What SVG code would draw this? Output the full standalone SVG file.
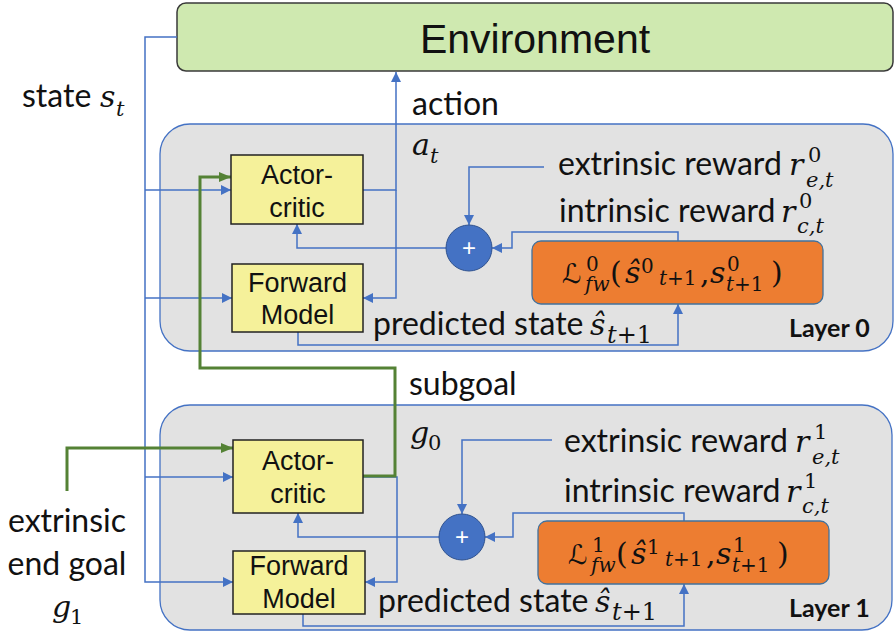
<svg xmlns="http://www.w3.org/2000/svg" width="895" height="635" viewBox="0 0 895 635">
  <style>
    .env { fill: #cfe9b0; stroke: #3a3a3a; stroke-width: 1.5; }
    .layer { fill: #e2e2e2; stroke: #4472c4; stroke-width: 1.3; }
    .box { fill: #f5f19a; stroke: #222; stroke-width: 1.5; }
    .loss { fill: #ed7d31; stroke: #41719c; stroke-width: 1.3; }
    .sum { fill: #4472c4; stroke: #2f528f; stroke-width: 1; }
    .wire { fill: none; stroke: #4472c4; stroke-width: 1.5; }
    .goal { fill: none; stroke: #548235; stroke-width: 3; }
    .sans { font-family: "Liberation Sans", Arial, sans-serif; fill: #111; }
    .hum { font-family: Lato, "Open Sans", sans-serif; fill: #111; }
    .math { font-family: "DejaVu Serif", "Liberation Serif", serif; font-style: italic; fill: #111; }
    .up { font-style: normal; }
    .script { font-family: "DejaVu Sans", "DejaVu Serif", serif; font-style: normal; }
    .plus { font-family: "Liberation Sans", Arial, sans-serif; font-size: 24px; fill: #fff; text-anchor: middle; }
    .tag { font-family: Lato, "Open Sans", sans-serif; font-weight: bold; font-size: 25px; fill: #111; }
  </style>
  <defs>
    <marker id="arrowBlue" markerUnits="userSpaceOnUse" markerWidth="10" markerHeight="10" refX="10" refY="5" orient="auto">
      <path d="M0,0 L10,5 L0,10 Z" fill="#4472c4"/>
    </marker>
    <marker id="arrowGreen" markerUnits="userSpaceOnUse" markerWidth="12" markerHeight="12" refX="12" refY="6" orient="auto">
      <path d="M0,1 L12,6 L0,11 Z" fill="#548235"/>
    </marker>
  </defs>

  <!-- containers -->
  <g id="environment">
    <rect class="env" x="177" y="3" width="716" height="68" rx="9"/>
    <text class="sans" x="535" y="53" font-size="41" text-anchor="middle">Environment</text>
  </g>
  <g id="layer0">
    <rect class="layer" x="160" y="124" width="733" height="227" rx="30"/>
    <text class="tag" x="789" y="337">Layer 0</text>
  </g>
  <g id="layer1">
    <rect class="layer" x="160" y="405" width="732" height="225" rx="30"/>
    <text class="tag" x="789" y="617">Layer 1</text>
  </g>

  <!-- connectors -->
  <g id="connectors">
    <!-- state feed -->
    <path class="wire" d="M177,37 H145 V582 H233" marker-end="url(#arrowBlue)"/>
    <path class="wire" d="M145,190 H231" marker-end="url(#arrowBlue)"/>
    <path class="wire" d="M145,298 H232" marker-end="url(#arrowBlue)"/>
    <path class="wire" d="M145,477 H233" marker-end="url(#arrowBlue)"/>
    <!-- layer 0 -->
    <path class="wire" d="M363,190 H396 V72" marker-end="url(#arrowBlue)"/>
    <path class="wire" d="M396,190 V298 H363" marker-end="url(#arrowBlue)"/>
    <path class="wire" d="M544,167 H469 V225" marker-end="url(#arrowBlue)"/>
    <path class="wire" d="M678,241 V232 H512 V248 H492" marker-end="url(#arrowBlue)"/>
    <path class="wire" d="M446,248 H297 V224" marker-end="url(#arrowBlue)"/>
    <path class="wire" d="M298,332 V345 H678 V304" marker-end="url(#arrowBlue)"/>
    <!-- layer 1 -->
    <path class="wire" d="M363,477 H397 V582 H365" marker-end="url(#arrowBlue)"/>
    <path class="wire" d="M552,440 H462 V514" marker-end="url(#arrowBlue)"/>
    <path class="wire" d="M684,521 V513 H513 V537 H485" marker-end="url(#arrowBlue)"/>
    <path class="wire" d="M439,537 H298 V513" marker-end="url(#arrowBlue)"/>
    <path class="wire" d="M303,614 V626 H684 V584" marker-end="url(#arrowBlue)"/>
    <!-- goals -->
    <path class="goal" d="M67,491 V448 H233" marker-end="url(#arrowGreen)"/>
    <path class="goal" d="M363,476 H395 V368 H200 V177 H231" marker-end="url(#arrowGreen)"/>
  </g>

  <!-- layer 0 nodes -->
  <g id="actor-critic-0">
    <rect class="box" x="231" y="155" width="132" height="69"/>
    <text class="sans" x="297" y="184" font-size="27" text-anchor="middle">Actor-</text>
    <text class="sans" x="297" y="217" font-size="27" text-anchor="middle">critic</text>
  </g>
  <g id="forward-model-0">
    <rect class="box" x="232" y="264" width="131" height="68"/>
    <text class="sans" x="297.5" y="292" font-size="27" text-anchor="middle">Forward</text>
    <text class="sans" x="297.5" y="324" font-size="27" text-anchor="middle">Model</text>
  </g>
  <g id="sum-0">
    <circle class="sum" cx="469" cy="248" r="23"/>
    <text class="plus" x="469" y="256">+</text>
  </g>
  <g id="loss-0">
    <rect class="loss" x="532" y="241" width="291" height="63" rx="9"/>
    <text class="math" font-size="30" y="283"><tspan class="script" x="562" font-size="27">ℒ</tspan><tspan class="up" x="586" y="271" font-size="20">0</tspan><tspan x="585" y="291" font-size="20">fw</tspan><tspan class="up" x="610" y="283" font-size="30">(</tspan><tspan x="625">ŝ</tspan><tspan class="up" x="641" y="273" font-size="20">0</tspan><tspan x="659" y="285" font-size="20">t</tspan><tspan class="up" font-size="20">+1</tspan><tspan class="up" x="700" y="283">,</tspan><tspan x="710">s</tspan><tspan class="up" x="727" y="271" font-size="20">0</tspan><tspan x="726" y="291" font-size="20">t</tspan><tspan class="up" font-size="20">+1</tspan><tspan class="up" x="771" y="283">)</tspan></text>
  </g>

  <!-- layer 1 nodes -->
  <g id="actor-critic-1">
    <rect class="box" x="233" y="440" width="130" height="73"/>
    <text class="sans" x="298" y="470" font-size="27" text-anchor="middle">Actor-</text>
    <text class="sans" x="298" y="503" font-size="27" text-anchor="middle">critic</text>
  </g>
  <g id="forward-model-1">
    <rect class="box" x="233" y="551" width="132" height="63"/>
    <text class="sans" x="299" y="575" font-size="27" text-anchor="middle">Forward</text>
    <text class="sans" x="299" y="608" font-size="27" text-anchor="middle">Model</text>
  </g>
  <g id="sum-1">
    <circle class="sum" cx="462" cy="537" r="23"/>
    <text class="plus" x="462" y="545">+</text>
  </g>
  <g id="loss-1">
    <rect class="loss" x="538" y="521" width="291" height="63" rx="9"/>
    <text class="math" font-size="30" y="564"><tspan class="script" x="568" font-size="27">ℒ</tspan><tspan class="up" x="592" y="552" font-size="20">1</tspan><tspan x="591" y="572" font-size="20">fw</tspan><tspan class="up" x="616" y="564" font-size="30">(</tspan><tspan x="631">ŝ</tspan><tspan class="up" x="647" y="554" font-size="20">1</tspan><tspan x="665" y="566" font-size="20">t</tspan><tspan class="up" font-size="20">+1</tspan><tspan class="up" x="706" y="564">,</tspan><tspan x="716">s</tspan><tspan class="up" x="733" y="552" font-size="20">1</tspan><tspan x="732" y="572" font-size="20">t</tspan><tspan class="up" font-size="20">+1</tspan><tspan class="up" x="777" y="564">)</tspan></text>
  </g>

  <!-- labels -->
  <g id="labels">
    <text class="hum" x="22" y="107" font-size="32">state</text>
    <text class="math" x="100" y="107" font-size="30">s</text>
    <text class="math" x="116" y="116" font-size="21">t</text>

    <text class="hum" x="412" y="115" font-size="32">action</text>
    <text class="math" x="412" y="155" font-size="30">a</text>
    <text class="math" x="430" y="163" font-size="21">t</text>

    <text class="hum" x="558" y="175" font-size="32">extrinsic reward</text>
    <text class="math" x="789" y="175" font-size="30">r</text>
    <text class="math up" x="808" y="162" font-size="21">0</text>
    <text class="math" x="806" y="187" font-size="21">e,t</text>

    <text class="hum" x="559" y="222" font-size="32">intrinsic reward</text>
    <text class="math" x="781" y="222" font-size="30">r</text>
    <text class="math up" x="799" y="208" font-size="21">0</text>
    <text class="math" x="797" y="233" font-size="21">c,t</text>

    <text class="hum" x="373" y="335" font-size="32">predicted state</text>
    <text class="math" x="590" y="335" font-size="30">ŝ</text>
    <text class="math" x="607" y="343" font-size="24">t<tspan class="up">+1</tspan></text>

    <text class="hum" x="409" y="395" font-size="32">subgoal</text>
    <text class="math" x="410" y="443" font-size="30">g</text>
    <text class="math up" x="428" y="450" font-size="21">0</text>

    <text class="hum" x="564" y="452" font-size="32">extrinsic reward</text>
    <text class="math" x="795" y="452" font-size="30">r</text>
    <text class="math up" x="814" y="439" font-size="21">1</text>
    <text class="math" x="812" y="464" font-size="21">e,t</text>

    <text class="hum" x="564" y="502" font-size="32">intrinsic reward</text>
    <text class="math" x="786" y="502" font-size="30">r</text>
    <text class="math up" x="804" y="488" font-size="21">1</text>
    <text class="math" x="802" y="513" font-size="21">c,t</text>

    <text class="hum" x="378" y="612" font-size="32">predicted state</text>
    <text class="math" x="595" y="612" font-size="30">ŝ</text>
    <text class="math" x="612" y="620" font-size="24">t<tspan class="up">+1</tspan></text>

    <text class="hum" x="67" y="532" font-size="32" text-anchor="middle">extrinsic</text>
    <text class="hum" x="67" y="575" font-size="32" text-anchor="middle">end goal</text>
    <text class="math" x="52" y="617" font-size="30">g</text>
    <text class="math up" x="70" y="624" font-size="21">1</text>
  </g>
</svg>
